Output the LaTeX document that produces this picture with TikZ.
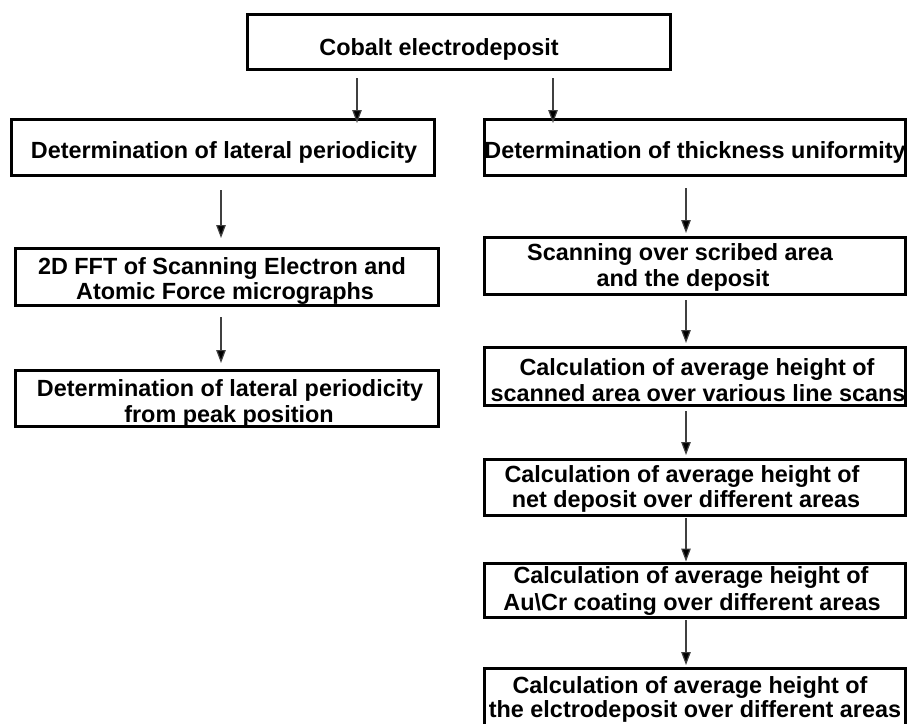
\documentclass[tikz,border=0pt]{standalone}
\usepackage{fontspec}
\setmainfont{Liberation Sans}
\usetikzlibrary{arrows.meta}
\begin{document}
\begin{tikzpicture}[x=1pt,y=-1pt,
  box/.style={draw=black, line width=3.3pt, outer sep=1.65pt, inner sep=0pt},
  lbox/.style={box, minimum width=422.7pt},
  rbox/.style={box, minimum width=420.7pt},
  lbl/.style={anchor=base, inner sep=0pt, outer sep=0pt, font=\fontsize{23.4}{26}\selectfont\bfseries},
  arr/.style={draw=black!75, line width=1.2pt, -{Triangle[length=13pt,width=9.5pt,fill=black]}}]
\useasboundingbox (0,0) rectangle (907,723);
\fill[white] (0,0) rectangle (907,723);
\clip (0,0) rectangle (907,723);

% boxes
\node[box, minimum width=422.7pt, minimum height=54.7pt] (top) at (459,42) {};
\node[lbox, minimum height=55.7pt] (L1) at (223,147.5) {};
\node[rbox, minimum height=55.7pt] (R1) at (695,147.5) {};
\node[lbox, minimum height=56.7pt] (L2) at (227,277) {};
\node[lbox, minimum height=55.7pt] (L3) at (227,398.5) {};
\node[rbox, minimum height=56.7pt] (R2) at (695,266) {};
\node[rbox, minimum height=57.7pt] (R3) at (695,376.5) {};
\node[rbox, minimum height=55.7pt] (R4) at (695,487.5) {};
\node[rbox, minimum height=53.7pt] (R5) at (695,590.5) {};
\node[rbox, minimum height=69.7pt] (R6) at (695,703.5) {};

% texts
\node[lbl] (t0) at (439,55) {Cobalt electrodeposit};
\node[lbl] (tL1) at (224,158) {Determination of lateral periodicity};
\node[lbl] (tR1) at (695,158) {Determination of thickness uniformity};
\node[lbl] (tL2a) at (222,274) {2D FFT of Scanning Electron and};
\node[lbl] (tL2b) at (225,299) {Atomic Force micrographs};
\node[lbl] (tL3a) at (230,396) {Determination of lateral periodicity};
\node[lbl] (tL3b) at (229,422) {from peak position};
\node[lbl] (tR2a) at (680,260) {Scanning over scribed area};
\node[lbl] (tR2b) at (683,286) {and the deposit};
\node[lbl] (tR3a) at (697,375) {Calculation of average height of};
\node[lbl] (tR3b) at (698,401) {scanned area over various line scans};
\node[lbl] (tR4a) at (682,482) {Calculation of average height of};
\node[lbl] (tR4b) at (686,507) {net deposit over different areas};
\node[lbl] (tR5a) at (691,583) {Calculation of average height of};
\node[lbl] (tR5b) at (692,610) {Au\textbackslash Cr coating over different areas};
\node[lbl] (tR6a) at (690,693) {Calculation of average height of};
\node[lbl] (tR6b) at (695,717) {the elctrodeposit over different areas};

% connectors
\draw[arr] ([xshift=-102pt,yshift=-7pt]top.south) -- ([xshift=134pt,yshift=-5pt]L1.north);
\draw[arr] ([xshift=94pt,yshift=-7pt]top.south) -- ([xshift=-142pt,yshift=-5pt]R1.north);
\draw[arr] ([xshift=-2pt,yshift=-13pt]L1.south) -- ([xshift=-6pt,yshift=9pt]L2.north);
\draw[arr] ([xshift=-6pt,yshift=-10pt]L2.south) -- ([xshift=-6pt,yshift=6pt]L3.north);
\draw[arr] ([xshift=-9pt,yshift=-11pt]R1.south) -- ([xshift=-9pt,yshift=3pt]R2.north);
\draw[arr] ([xshift=-9pt,yshift=-4pt]R2.south) -- ([xshift=-9pt,yshift=3pt]R3.north);
\draw[arr] ([xshift=-9pt,yshift=-4pt]R3.south) -- ([xshift=-9pt,yshift=3pt]R4.north);
\draw[arr] ([xshift=-9pt,yshift=-1pt]R4.south) -- ([xshift=-9pt,yshift=0.5pt]R5.north);
\draw[arr] ([xshift=-9pt,yshift=-1pt]R5.south) -- ([xshift=-9pt,yshift=2pt]R6.north);
\end{tikzpicture}
\end{document}
